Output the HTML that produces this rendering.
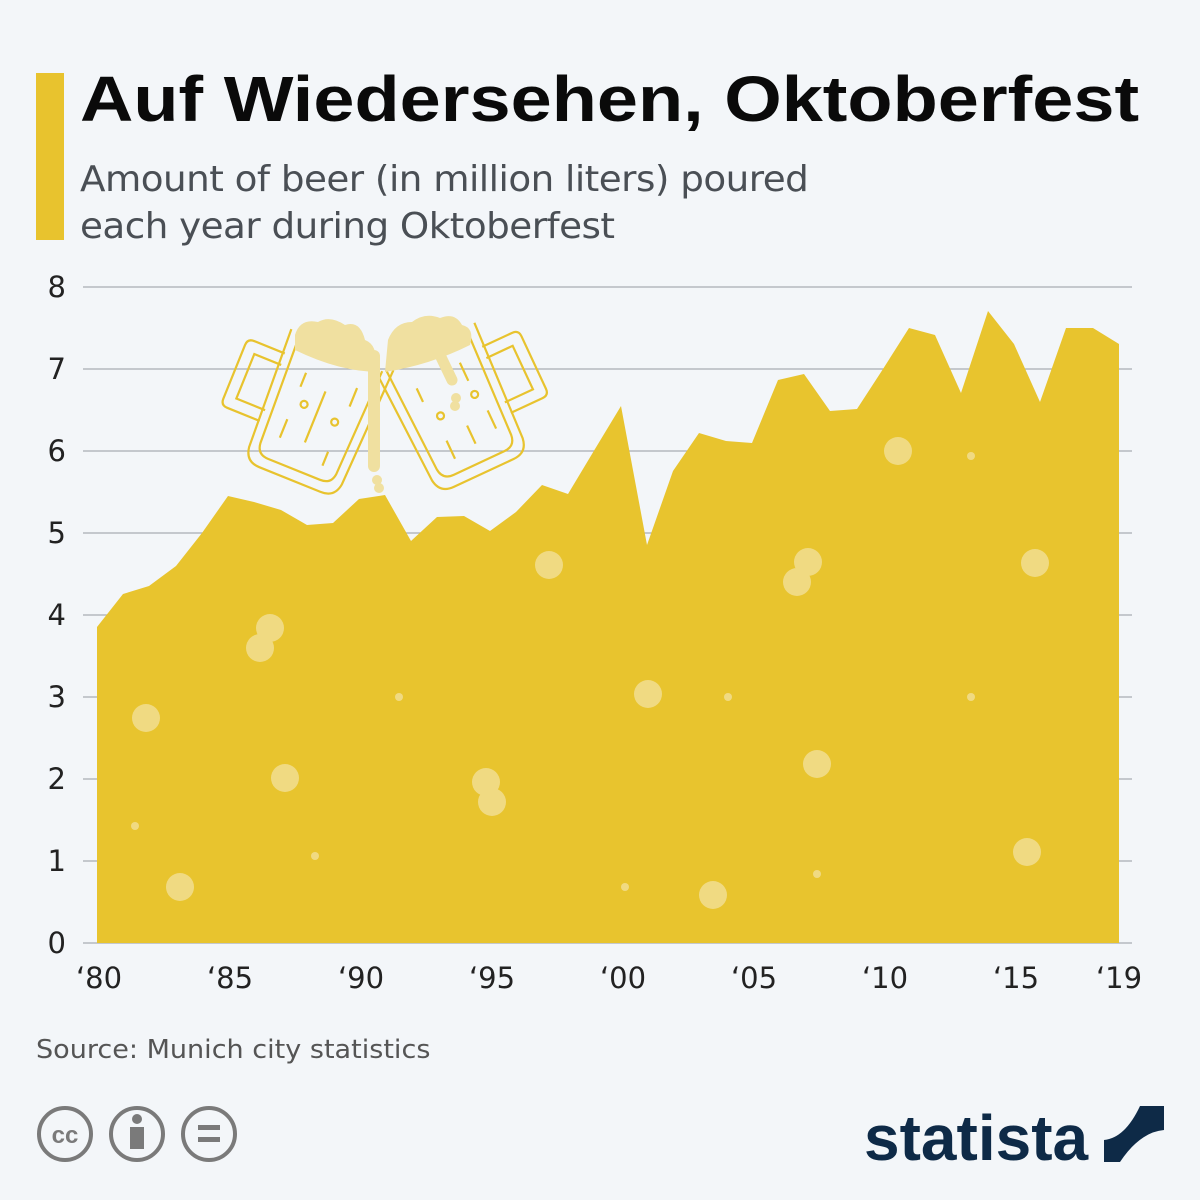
<!DOCTYPE html>
<html><head><meta charset="utf-8"><style>
body{margin:0;width:1200px;height:1200px;background:#f3f6f9;font-family:"Liberation Sans","DejaVu Sans",sans-serif;overflow:hidden;position:relative}
.bar{position:absolute;left:36px;top:73px;width:28px;height:167px;background:#e8c32e}
h1{position:absolute;left:80px;top:62px;margin:0;font-size:64px;font-weight:bold;color:#0a0a0a;transform-origin:0 0;transform:scaleX(1.155);white-space:nowrap}
.sub{position:absolute;left:80px;top:156px;font-size:36px;line-height:47px;color:#4a4f55;font-family:"DejaVu Sans",sans-serif;letter-spacing:-0.5px;transform-origin:0 0;transform:scaleX(1.035);white-space:nowrap}
.src{position:absolute;left:36px;top:1035px;font-size:26px;color:#555;font-family:"DejaVu Sans",sans-serif;transform-origin:0 0;transform:scaleX(1.04);white-space:nowrap}
</style></head><body>
<div class="bar"></div>
<h1>Auf Wiedersehen, Oktoberfest</h1>
<div class="sub">Amount of beer (in million liters) poured<br>each year during Oktoberfest</div>
<svg width="1200" height="1200" style="position:absolute;left:0;top:0">
<g stroke="#a9adb3" stroke-width="1.3">
<line x1="83" x2="1132" y1="287" y2="287"/><line x1="83" x2="1132" y1="369" y2="369"/>
<line x1="83" x2="1132" y1="451" y2="451"/><line x1="83" x2="1132" y1="533" y2="533"/>
<line x1="83" x2="1132" y1="615" y2="615"/><line x1="83" x2="1132" y1="697" y2="697"/>
<line x1="83" x2="1132" y1="779" y2="779"/><line x1="83" x2="1132" y1="861" y2="861"/>
<line x1="83" x2="1132" y1="943" y2="943"/>
</g>
<g font-family="DejaVu Sans,sans-serif" font-size="29" fill="#222" text-anchor="end">
<text x="66" y="953">0</text><text x="66" y="871">1</text><text x="66" y="789">2</text><text x="66" y="707">3</text><text x="66" y="625">4</text><text x="66" y="543">5</text><text x="66" y="461">6</text><text x="66" y="379">7</text><text x="66" y="297">8</text>
</g>
<polygon fill="#e8c42e" points="97,943 97,627 123,594 149,586 176,566 202,533 228,496 254,502 281,510 307,525 333,523 359,499 385,495 411,541 437,517 464,516 490,531 516,512 542,485 568,494 595,449 621,406 647,545 673,471 699,433 726,441 752,443 778,380 804,374 830,411 857,409 883,369 909,328 935,335 961,393 988,311 1014,344 1040,402 1066,328 1093,328 1119,344 1119,943"/>
<g fill="#f0da82">
<circle cx="146" cy="718" r="14"/><circle cx="180" cy="887" r="14"/><circle cx="260" cy="648" r="14"/><circle cx="270" cy="628" r="14"/><circle cx="285" cy="778" r="14"/><circle cx="486" cy="782" r="14"/><circle cx="492" cy="802" r="14"/><circle cx="549" cy="565" r="14"/><circle cx="648" cy="694" r="14"/><circle cx="713" cy="895" r="14"/><circle cx="797" cy="582" r="14"/><circle cx="808" cy="562" r="14"/><circle cx="817" cy="764" r="14"/><circle cx="898" cy="451" r="14"/><circle cx="1035" cy="563" r="14"/><circle cx="1027" cy="852" r="14"/>
<circle cx="135" cy="826" r="4"/><circle cx="315" cy="856" r="4"/><circle cx="399" cy="697" r="4"/><circle cx="625" cy="887" r="4"/><circle cx="728" cy="697" r="4"/><circle cx="817" cy="874" r="4"/><circle cx="971" cy="456" r="4"/><circle cx="971" cy="697" r="4"/>
</g>
<g fill="none" stroke="#e8c32e" stroke-width="2.2">
<g transform="translate(318,410) rotate(22)">
<path d="M-55,-65 L-50,60 Q-48,75 -33,75 L33,75 Q48,75 50,60 L55,-65"/>
<path d="M-45,-60 L-41,52 Q-40,64 -28,64 L28,64 Q40,64 41,52 L45,-60"/>
<path d="M-52,-40 L-85,-40 Q-92,-40 -92,-33 L-92,25 Q-92,32 -85,32 L-50,32"/>
<path d="M-51,-28 L-80,-28 L-80,20 L-49,20"/>
<line x1="-25" y1="-30" x2="-25" y2="-15"/><line x1="0" y1="-20" x2="0" y2="35"/><line x1="28" y1="-35" x2="28" y2="-15"/><line x1="-25" y1="20" x2="-25" y2="40"/><line x1="25" y1="35" x2="25" y2="50"/>
<circle cx="-15" cy="0" r="3.5"/><circle cx="20" cy="5" r="3.5"/>
</g>
<g transform="translate(452,405) rotate(-25)">
<path d="M-55,-65 L-50,60 Q-48,75 -33,75 L33,75 Q48,75 50,60 L55,-65"/>
<path d="M-45,-60 L-41,52 Q-40,64 -28,64 L28,64 Q40,64 41,52 L45,-60"/>
<path d="M52,-40 L85,-40 Q92,-40 92,-33 L92,25 Q92,32 85,32 L50,32"/>
<path d="M51,-28 L80,-28 L80,20 L49,20"/>
<line x1="-25" y1="-30" x2="-25" y2="-15"/><line x1="25" y1="-35" x2="25" y2="-15"/><line x1="-20" y1="30" x2="-20" y2="50"/><line x1="5" y1="25" x2="5" y2="45"/><line x1="30" y1="20" x2="30" y2="40"/>
<circle cx="-15" cy="5" r="3.5"/><circle cx="25" cy="0" r="3.5"/>
</g>
</g>
<g fill="#f0e0a0">
<path d="M295,335 Q300,318 318,322 Q330,315 345,325 Q360,320 365,340 Q378,345 375,365 L380,372 Q340,372 295,350 Z"/>
<path d="M388,340 Q395,322 412,322 Q425,312 440,318 Q455,312 462,325 Q475,328 470,345 Q430,365 385,372 Z"/>
<rect x="368" y="350" width="12" height="122" rx="6"/>
<circle cx="377" cy="480" r="5"/><circle cx="379" cy="488" r="5"/>
<path d="M440,355 L452,380" stroke="#f0e0a0" stroke-width="11" stroke-linecap="round"/>
<circle cx="456" cy="398" r="5"/><circle cx="455" cy="406" r="5"/>
</g>
<g font-family="DejaVu Sans,sans-serif" font-size="29" fill="#222" text-anchor="middle">
<text x="99" y="988">‘80</text><text x="230" y="988">‘85</text><text x="361" y="988">‘90</text><text x="492" y="988">‘95</text><text x="623" y="988">‘00</text><text x="754" y="988">‘05</text><text x="885" y="988">‘10</text><text x="1016" y="988">‘15</text><text x="1119" y="988">‘19</text>
</g>
<g fill="none" stroke="#7a7a7a" stroke-width="4">
<circle cx="65" cy="1134" r="26"/><circle cx="137" cy="1134" r="26"/><circle cx="209" cy="1134" r="26"/>
</g>
<text x="65" y="1143" font-size="24" font-weight="bold" fill="#7a7a7a" text-anchor="middle">cc</text>
<circle cx="137" cy="1119" r="5" fill="#7a7a7a"/><rect x="130" y="1127" width="14" height="22" fill="#7a7a7a"/>
<rect x="198" y="1125" width="22" height="5" fill="#7a7a7a"/><rect x="198" y="1137" width="22" height="5" fill="#7a7a7a"/>
<text x="864" y="1160" font-size="64" font-weight="bold" fill="#0e2a47" letter-spacing="0">statista</text>
<path d="M1104,1106 L1164,1106 L1164,1130 Q1140,1132 1120,1162 L1104,1162 L1104,1140 Q1125,1138 1140,1106 Z" fill="#0e2a47"/>
</svg>
<div class="src">Source: Munich city statistics</div>
</body></html>
